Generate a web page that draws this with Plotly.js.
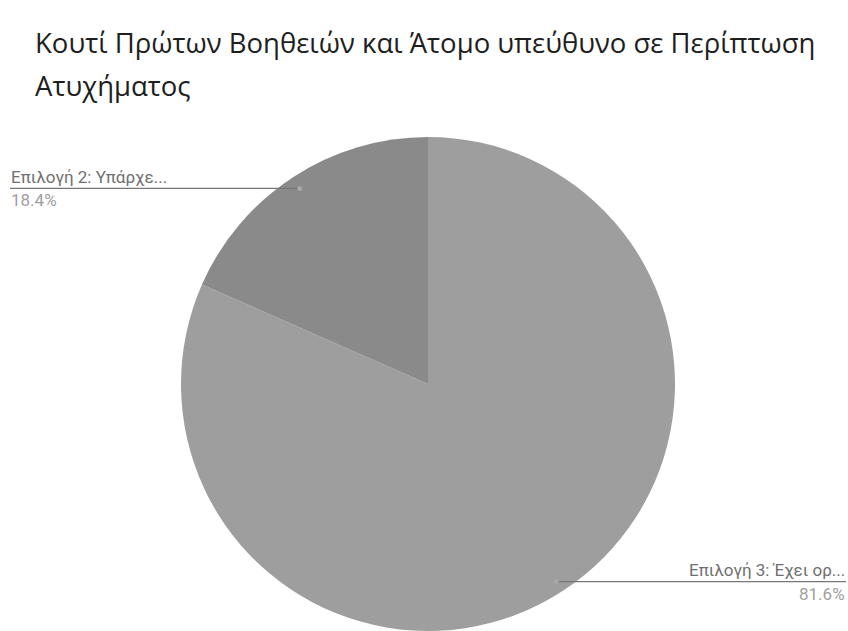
<!DOCTYPE html>
<html>
<head>
<meta charset="utf-8">
<script src="https://cdn.plot.ly/plotly-3.0.1.min.js"></script>
<style>html,body{margin:0;padding:0;background:#fff;overflow:hidden}#chart{width:848px;height:631px}</style>
</head>
<body>
<div id="chart"></div>
<script>
const titleLines = ["Κουτί Πρώτων Βοηθειών και Άτομο υπεύθυνο σε Περίπτωση", "Ατυχήματος"];
const labels = ["Επιλογή 3: Έχει ορ...", "Επιλογή 2: Υπάρχε..."];
const values = [81.6, 18.4];
const colors = ["#9e9e9e", "#8a8a8a"];

const W = 848, H = 631;
const cx = 428, cy = 384, R = 247;
const dom = {x: [(cx - R) / W, (cx + R) / W], y: [1 - (cy + R) / H, 1 - (cy - R) / H]};

const total = values.reduce((a, b) => a + b, 0);
const shapes = [], annotations = [];
let cum = 0;
values.forEach((v, i) => {
  const mid = (cum + v / 2) / total * 2 * Math.PI; // clockwise from top
  cum += v;
  const ax = cx + 0.95 * R * Math.sin(mid);
  const ay = cy - 0.95 * R * Math.cos(mid) + 1;
  const left = Math.sin(mid) < 0;
  const endX = left ? 10 : 846;
  const px = x => x / W, py = y => 1 - y / H;
  shapes.push({type: "line", xref: "paper", yref: "paper", x0: px(ax), y0: py(ay), x1: px(endX), y1: py(ay),
    line: {color: "#777777", width: 1.3}});
  shapes.push({type: "circle", xref: "paper", yref: "paper", x0: px(ax - 2.5), x1: px(ax + 2.5), y0: py(ay + 2.5), y1: py(ay - 2.5),
    fillcolor: "#a8a8a8", line: {width: 0}});
  annotations.push({xref: "paper", yref: "paper", x: px(endX), y: py(ay - 0.5), xanchor: left ? "left" : "right", yanchor: "bottom",
    text: labels[i], showarrow: false, font: {family: "Roboto", size: 17, color: "#707070"}, borderpad: 0});
  annotations.push({xref: "paper", yref: "paper", x: px(endX), y: py(ay + 1), xanchor: left ? "left" : "right", yanchor: "top",
    text: (v / total * 100).toFixed(1) + "%", showarrow: false, font: {family: "Roboto", size: 17, color: "#a0a0a0"}, borderpad: 0});
});

const data = [{
  type: "pie",
  labels: labels,
  values: values,
  sort: false,
  direction: "clockwise",
  rotation: 0,
  textinfo: "none",
  hoverinfo: "label+percent",
  marker: {colors: colors, line: {width: 0}},
  domain: dom,
  showlegend: false
}];

const layout = {
  width: W, height: H,
  margin: {l: 0, r: 0, t: 0, b: 0},
  paper_bgcolor: "#ffffff",
  title: {
    text: titleLines.map(s => '<span style="font-size:27.5px">' + s + '</span>').join("<br>"),
    font: {family: "Open Sans", size: 33, color: "#1e1e1e"},
    xref: "container", yref: "container",
    x: 35 / W, xanchor: "left",
    y: 1 - 53 / H, yanchor: "top"
  },
  shapes: shapes,
  annotations: annotations,
  showlegend: false
};

Plotly.newPlot("chart", data, layout, {displayModeBar: false, staticPlot: true});
</script>
</body>
</html>
